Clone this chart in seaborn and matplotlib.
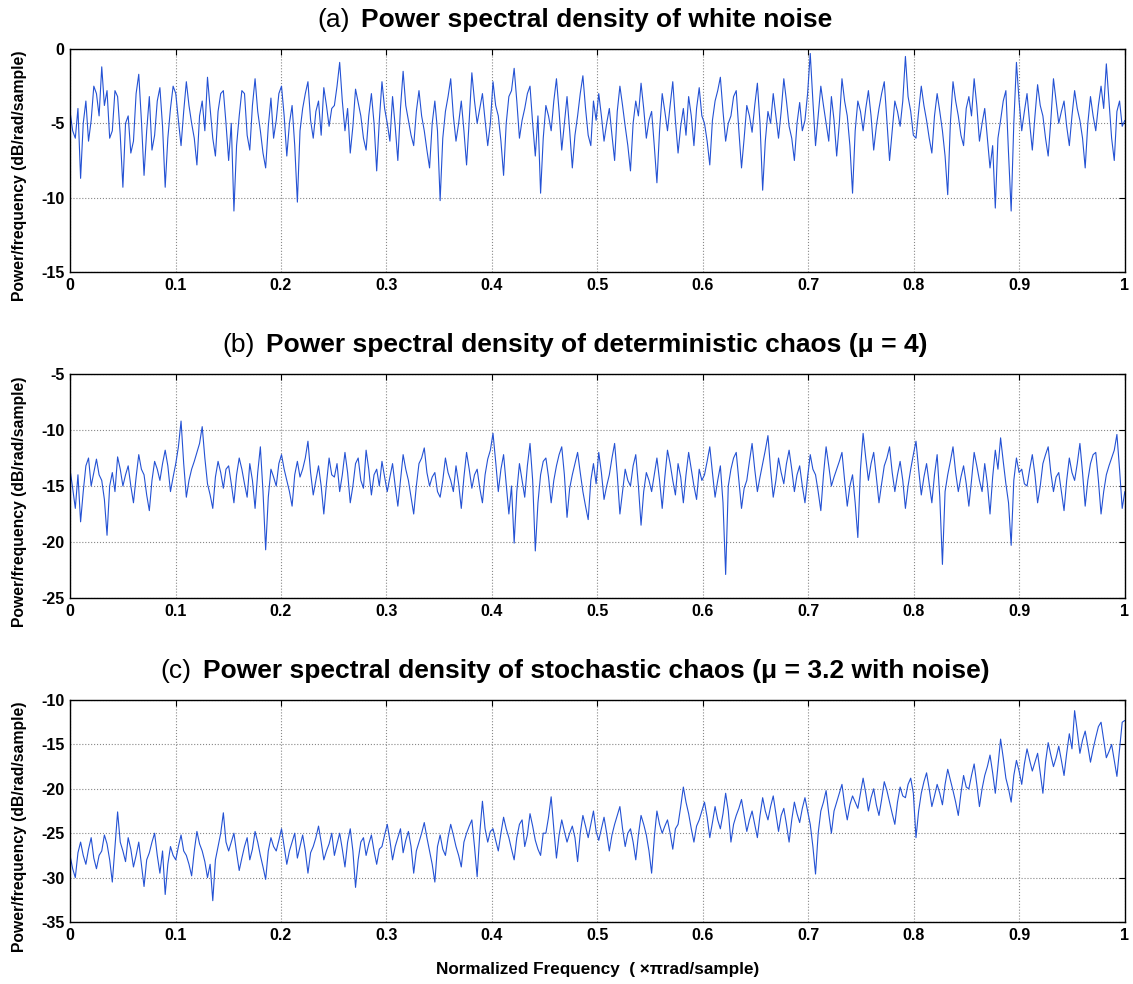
import matplotlib
matplotlib.use('Agg')
import matplotlib.pyplot as plt
import seaborn as sns
import numpy as np
import pandas as pd

# PSD values (dB/rad/sample), 400 samples per trace
white_noise = [
    -4.2, -5.5, -6.0, -4.0, -8.7, -5.0, -3.5, -6.2, -4.8, -2.5, -3.0, -4.5, -1.2, -3.8, -2.8, -6.0, -5.5, -2.8, -3.2, -5.8,
    -9.3, -5.0, -4.5, -7.0, -6.2, -3.0, -1.7, -4.8, -8.5, -5.5, -3.2, -6.8, -5.8, -3.5, -2.6, -5.2, -9.3, -6.0, -4.0, -2.5,
    -3.0, -4.8, -6.5, -4.2, -2.2, -3.8, -5.0, -6.0, -7.8, -4.5, -3.5, -5.5, -1.9, -4.0, -6.0, -7.2, -4.2, -3.0, -2.8, -5.0,
    -7.5, -5.0, -10.9, -6.5, -4.5, -2.8, -3.0, -5.8, -6.8, -3.8, -2.0, -4.2, -5.5, -7.0, -8.0, -5.2, -3.3, -6.0, -4.8, -3.0,
    -2.5, -4.5, -7.2, -5.0, -3.8, -6.5, -10.3, -5.5, -4.0, -3.0, -2.2, -4.8, -6.0, -4.2, -3.5, -5.8, -2.6, -3.8, -5.2, -4.0,
    -3.8, -2.5, -0.9, -3.5, -5.5, -4.0, -7.0, -5.2, -2.7, -3.6, -4.5, -6.0, -6.8, -4.5, -3.0, -5.0, -8.2, -4.8, -2.2, -4.0,
    -5.0, -6.2, -3.2, -5.2, -7.5, -4.0, -1.5, -3.8, -4.8, -5.8, -6.5, -4.2, -2.8, -4.5, -5.5, -6.8, -8.0, -5.0, -3.5, -5.5,
    -10.2, -6.0, -4.2, -3.2, -2.0, -4.5, -6.2, -5.0, -3.5, -5.5, -7.8, -4.8, -1.6, -3.5, -5.0, -4.0, -3.0, -4.8, -6.5, -5.0,
    -2.2, -3.8, -4.5, -6.2, -8.5, -5.0, -3.2, -2.8, -1.3, -3.5, -6.0, -4.8, -4.0, -3.0, -2.5, -5.0, -7.2, -4.5, -9.7, -6.0,
    -3.8, -4.5, -5.5, -3.5, -2.0, -4.2, -6.8, -5.0, -3.2, -5.5, -8.0, -5.8, -4.5, -3.0, -1.8, -4.0, -5.8, -6.5, -3.5, -4.8,
    -3.0, -4.5, -6.2, -5.0, -4.0, -5.8, -7.5, -4.2, -2.5, -3.8, -5.2, -6.5, -8.2, -5.0, -3.5, -4.5, -2.3, -4.0, -6.0, -4.8,
    -4.2, -6.5, -9.0, -5.5, -3.0, -4.2, -5.5, -3.8, -2.2, -4.8, -7.0, -5.2, -4.0, -5.8, -3.2, -4.5, -6.5, -4.0, -2.6, -4.5,
    -5.0, -6.2, -7.8, -4.8, -3.5, -2.8, -1.9, -4.2, -6.2, -5.0, -4.5, -3.2, -2.8, -5.5, -8.0, -6.0, -3.8, -4.5, -5.6, -3.8,
    -2.3, -5.0, -9.5, -6.2, -4.2, -5.0, -3.0, -4.5, -6.0, -4.2, -2.0, -3.5, -5.2, -6.0, -7.5, -5.0, -3.6, -5.5, -4.8, -3.0,
    -0.3, -3.5, -6.5, -4.5, -2.5, -3.8, -5.0, -6.2, -3.2, -4.8, -7.2, -5.0, -2.0, -3.5, -4.5, -6.5, -9.7, -5.5, -3.5, -4.2,
    -5.5, -4.0, -2.8, -4.5, -6.8, -5.2, -4.0, -3.0, -2.2, -4.8, -7.5, -5.5, -3.5, -4.2, -5.2, -3.5, -0.5, -3.2, -4.2, -5.8,
    -6.0, -4.2, -2.5, -3.8, -4.8, -6.0, -7.0, -4.5, -3.0, -4.2, -5.5, -7.2, -9.8, -5.0, -2.2, -3.5, -4.5, -5.8, -6.5, -4.0,
    -3.2, -4.5, -2.0, -3.8, -6.2, -5.0, -4.0, -6.0, -8.0, -6.5, -10.7, -6.0, -4.8, -3.5, -2.8, -7.0, -10.9, -5.0, -0.9, -3.5,
    -5.5, -4.2, -3.0, -5.0, -6.8, -4.5, -2.4, -3.8, -4.5, -6.0, -7.2, -4.8, -2.0, -3.5, -5.0, -4.2, -3.5, -5.2, -6.5, -4.5,
    -2.8, -4.0, -4.8, -6.0, -8.0, -5.0, -3.2, -4.5, -5.5, -3.8, -2.5, -4.0, -1.0, -3.5, -6.0, -7.5, -4.2, -3.5, -5.2, -4.8,
]

det_chaos = [
    -13.5, -15.2, -17.0, -14.0, -18.2, -15.5, -13.2, -12.5, -15.0, -13.8, -12.6, -14.0, -14.5, -16.2, -19.4, -15.0, -13.8, -15.5, -12.4, -13.5,
    -15.0, -14.0, -13.2, -15.0, -16.5, -14.2, -12.2, -13.5, -14.0, -15.8, -17.2, -14.5, -12.8, -13.5, -14.5, -13.0, -11.8, -13.2, -15.5, -14.2,
    -13.0, -11.5, -9.2, -13.0, -16.0, -14.5, -13.5, -12.8, -12.0, -11.2, -9.7, -12.5, -14.8, -15.8, -17.0, -14.2, -12.8, -13.8, -15.2, -13.5,
    -13.2, -14.8, -16.5, -14.0, -12.5, -13.5, -14.8, -16.0, -13.0, -14.5, -17.0, -13.8, -11.5, -15.5, -20.7, -16.0, -13.5, -14.2, -15.0, -13.0,
    -12.2, -13.5, -14.5, -15.5, -16.8, -14.0, -12.8, -14.2, -13.5, -12.5, -11.0, -13.8, -15.8, -14.5, -13.2, -15.0, -17.5, -14.8, -12.5, -14.0,
    -14.2, -13.0, -15.5, -14.0, -12.0, -13.8, -16.5, -15.0, -13.0, -12.5, -14.5, -15.2, -11.8, -13.5, -15.8, -14.0, -13.5, -15.0, -12.8, -14.2,
    -15.5, -14.2, -13.0, -15.0, -16.8, -14.5, -12.2, -13.5, -14.5, -16.0, -17.5, -15.0, -13.0, -12.5, -11.6, -13.8, -15.0, -14.2, -13.8, -15.5,
    -16.0, -14.5, -12.5, -13.8, -14.5, -15.5, -13.2, -14.8, -17.0, -14.2, -12.0, -13.5, -15.2, -14.0, -13.5, -15.2, -16.5, -14.0, -12.6, -11.8,
    -10.3, -12.8, -15.5, -13.5, -12.2, -14.8, -17.5, -15.0, -20.1, -15.5, -13.0, -14.5, -16.0, -13.2, -11.2, -14.5, -20.8, -16.5, -14.0, -12.8,
    -12.5, -14.2, -16.5, -14.5, -13.2, -12.2, -11.5, -14.0, -17.8, -15.2, -14.0, -13.0, -12.0, -13.8, -15.5, -16.8, -18.0, -14.5, -13.0, -14.8,
    -12.0, -13.8, -16.2, -15.0, -14.0, -12.5, -11.2, -14.0, -17.5, -15.5, -13.5, -14.5, -15.0, -13.2, -12.2, -15.0, -18.5, -15.5, -13.8, -14.5,
    -15.5, -14.0, -12.5, -14.5, -17.0, -14.2, -11.8, -13.0, -14.5, -15.8, -13.0, -14.2, -16.5, -14.0, -12.0, -13.5, -15.0, -16.2, -13.5, -14.5,
    -14.0, -12.8, -11.5, -13.8, -16.0, -14.5, -13.2, -16.5, -22.9, -15.0, -13.5, -12.5, -12.0, -14.5, -17.0, -15.2, -14.5, -12.8, -11.2, -13.5,
    -15.5, -14.2, -13.0, -11.8, -10.5, -13.5, -16.0, -14.5, -12.5, -13.8, -14.8, -13.0, -11.8, -13.5, -15.5, -14.0, -13.2, -15.0, -16.5, -14.2,
    -12.2, -13.5, -14.0, -15.5, -17.2, -14.0, -11.5, -13.2, -15.0, -14.2, -13.5, -12.8, -12.0, -14.5, -16.8, -15.0, -14.0, -16.5, -19.6, -13.5,
    -10.3, -12.5, -14.5, -13.0, -12.0, -14.2, -16.5, -14.8, -13.2, -12.5, -11.5, -13.8, -15.5, -14.0, -12.8, -14.5, -17.0, -15.0, -13.5, -12.2,
    -11.0, -13.5, -15.8, -14.2, -13.0, -14.8, -16.5, -14.0, -12.2, -16.0, -22.0, -15.5, -14.0, -12.8, -11.5, -13.8, -15.5, -14.2, -13.2, -14.8,
    -16.8, -14.5, -12.0, -13.2, -14.5, -15.5, -13.0, -14.8, -17.5, -14.2, -11.8, -13.5, -10.7, -12.8, -14.8, -16.5, -20.3, -14.5, -12.5, -13.8,
    -13.5, -14.8, -15.0, -13.5, -12.2, -14.0, -16.5, -15.0, -13.0, -12.2, -11.5, -13.8, -15.5, -14.2, -13.8, -15.5, -17.2, -14.5, -12.5, -13.8,
    -14.5, -13.0, -11.2, -13.8, -16.8, -14.5, -13.0, -12.2, -12.0, -14.5, -17.5, -15.5, -14.0, -13.2, -12.5, -11.8, -10.4, -13.5, -17.0, -15.5,
]

stoch_chaos = [
    -27.5, -29.0, -30.0, -27.2, -26.0, -27.5, -28.5, -26.8, -25.5, -27.8, -29.0, -27.5, -27.0, -25.2, -26.2, -28.0, -30.5, -26.5, -22.6, -26.0,
    -27.0, -28.2, -25.5, -26.8, -28.8, -27.5, -26.0, -28.5, -31.0, -28.0, -27.2, -26.0, -25.0, -27.5, -29.5, -27.0, -31.9, -28.5, -26.5, -27.5,
    -28.0, -26.5, -25.2, -27.0, -27.5, -28.5, -29.8, -27.0, -24.8, -26.2, -27.0, -28.2, -30.0, -28.5, -32.6, -28.0, -26.5, -25.0, -22.7, -26.0,
    -27.0, -26.0, -25.0, -27.2, -29.2, -27.8, -26.5, -25.5, -28.0, -26.8, -24.8, -26.0, -27.5, -28.8, -30.2, -27.0, -25.5, -26.5, -27.0, -25.8,
    -24.5, -26.5, -28.5, -27.0, -26.0, -25.0, -27.8, -26.5, -25.2, -27.0, -29.5, -27.2, -26.5, -25.5, -24.2, -26.0, -28.0, -27.0, -26.2, -25.0,
    -27.5, -26.2, -25.0, -26.8, -28.8, -26.0, -24.5, -27.0, -31.1, -28.0, -26.0, -25.5, -27.5, -26.2, -25.2, -27.0, -28.5, -26.8, -26.5, -25.2,
    -24.0, -25.8, -28.0, -26.5, -25.5, -24.5, -27.2, -25.8, -24.8, -26.5, -29.5, -27.0, -26.0, -25.0, -23.8, -25.5, -27.0, -28.5, -30.5, -26.5,
    -25.2, -26.8, -27.5, -25.5, -24.0, -25.2, -26.5, -27.5, -28.8, -26.0, -25.0, -24.2, -23.5, -26.5, -29.9, -25.0, -21.4, -24.5, -26.0, -24.8,
    -24.5, -25.8, -27.0, -25.0, -23.2, -24.5, -25.5, -26.8, -28.0, -25.5, -24.0, -23.5, -26.5, -25.2, -22.8, -24.2, -25.8, -26.8, -27.5, -25.0,
    -25.0, -23.2, -20.9, -24.5, -27.8, -25.2, -23.5, -24.8, -26.0, -25.0, -24.2, -25.5, -28.2, -25.0, -23.0, -24.2, -25.5, -24.0, -22.5, -24.8,
    -25.8, -24.5, -23.2, -25.0, -27.0, -25.2, -24.0, -23.0, -22.0, -24.5, -26.5, -25.0, -24.5, -26.0, -28.0, -25.2, -23.0, -24.0, -25.2, -27.0,
    -29.5, -25.5, -22.5, -24.0, -25.0, -24.2, -23.5, -25.0, -26.8, -24.5, -24.0, -22.0, -19.8, -21.5, -22.8, -24.5, -26.0, -24.2, -23.5, -22.5,
    -21.5, -23.2, -25.5, -23.8, -22.0, -23.5, -24.5, -22.8, -20.5, -22.5, -26.0, -24.0, -23.0, -22.2, -21.2, -23.0, -24.8, -23.5, -22.5, -24.0,
    -25.5, -23.0, -21.0, -22.5, -23.5, -22.0, -20.8, -22.8, -24.8, -23.0, -22.2, -24.0, -26.0, -23.5, -21.5, -22.8, -23.8, -22.2, -21.0, -22.5,
    -24.0, -26.5, -29.6, -25.0, -22.5, -21.5, -20.2, -22.8, -25.0, -22.5, -21.5, -20.5, -19.5, -21.8, -23.5, -21.8, -20.8, -21.5, -22.2, -20.5,
    -18.8, -20.5, -22.5, -21.0, -20.0, -21.8, -23.0, -21.2, -19.2, -20.2, -21.5, -22.8, -24.0, -21.5, -19.8, -20.8, -21.0, -19.5, -18.8, -20.5,
    -25.5, -22.5, -20.5, -19.2, -18.2, -20.0, -22.0, -20.8, -19.5, -20.5, -21.8, -19.5, -17.8, -19.0, -20.2, -21.5, -23.0, -20.5, -18.5, -19.8,
    -20.0, -18.5, -17.2, -19.5, -22.0, -20.0, -18.5, -17.5, -16.2, -18.2, -20.5, -17.5, -14.4, -16.5, -18.8, -20.0, -21.5, -18.5, -16.8, -18.0,
    -19.5, -17.2, -15.5, -16.8, -18.0, -17.0, -16.0, -18.2, -20.5, -17.0, -14.8, -16.2, -17.5, -16.5, -15.2, -16.8, -18.5, -16.0, -13.8, -15.5,
    -11.2, -13.5, -16.0, -14.5, -13.5, -15.2, -17.0, -15.5, -14.2, -13.0, -12.5, -14.5, -16.5, -15.8, -15.0, -16.8, -18.6, -15.5, -12.5, -12.3,
]

panel_tags = ['(a)', '(b)', '(c)']
panel_titles = ['Power spectral density of white noise',
                'Power spectral density of deterministic chaos (\u03bc = 4)',
                'Power spectral density of stochastic chaos (\u03bc = 3.2 with noise)']
y_ranges = [(-15, 0), (-25, -5), (-35, -10)]
x_ticks = [0, 0.1, 0.2, 0.3, 0.4, 0.5, 0.6, 0.7, 0.8, 0.9, 1]
x_tick_labels = ['0', '0.1', '0.2', '0.3', '0.4', '0.5', '0.6', '0.7', '0.8', '0.9', '1']

sns.set_style('white')
plt.rcParams['font.family'] = ['Liberation Sans', 'DejaVu Sans']
plt.rcParams['axes.unicode_minus'] = False
for key in ['text.color', 'axes.labelcolor', 'xtick.color', 'ytick.color']:
    plt.rcParams[key] = 'black'

fig = plt.figure(figsize=(11.33, 9.84), dpi=100)
axes_pos = [[0.0618, 0.7236, 0.931, 0.2266],
            [0.0618, 0.3923, 0.931, 0.2276],
            [0.0618, 0.0630, 0.931, 0.2256]]

line_color = '#2452d4'
series = [white_noise, det_chaos, stoch_chaos]
axes = []
for k, vals in enumerate(series):
    ax = fig.add_axes(axes_pos[k])
    df = pd.DataFrame({'freq': np.linspace(0, 1, len(vals)), 'psd': vals})
    sns.lineplot(data=df, x='freq', y='psd', ax=ax, color=line_color, linewidth=0.8)
    lo, hi = y_ranges[k]
    ax.set_xlim(0, 1)
    ax.set_ylim(lo, hi)
    ax.set_xticks(x_ticks)
    ax.set_xticklabels(x_tick_labels)
    ax.set_yticks(np.arange(lo, hi + 1, 5))
    ax.grid(True, linestyle=':', color='#888888', linewidth=0.8)
    ax.tick_params(axis='both', direction='in', length=4, labelsize=11.5, pad=4,
                   top=True, right=True)
    for lab in ax.get_xticklabels() + ax.get_yticklabels():
        lab.set_fontweight('bold')
    for sp in ax.spines.values():
        sp.set_color('black')
        sp.set_linewidth(1.0)
    ax.set_xlabel('')
    ax.set_ylabel('Power/frequency (dB/rad/sample)', fontsize=11.3, fontweight='bold')
    ax.yaxis.set_label_coords(-0.041, 0.43)
    axes.append(ax)

axes[2].set_xlabel('Normalized Frequency  ( \u00d7\u03c0rad/sample)', fontsize=12.3,
                   fontweight='bold', labelpad=14)

# titles: regular tag + bold text, centred together above each panel
fig.canvas.draw()
renderer = fig.canvas.get_renderer()
title_cx = 575
for k, ax in enumerate(axes):
    pos = ax.get_position()
    ty = pos.y1 * fig.bbox.height + 17
    t1 = fig.text(0, 0, panel_tags[k], fontsize=19, transform=None, va='bottom')
    t2 = fig.text(0, 0, panel_titles[k], fontsize=19, fontweight='bold', transform=None, va='bottom')
    w1 = t1.get_window_extent(renderer).width
    w2 = t2.get_window_extent(renderer).width
    gap = 11
    x0 = title_cx - (w1 + gap + w2) / 2
    t1.set_position((x0, ty))
    t2.set_position((x0 + w1 + gap, ty))

fig.savefig('out.png', dpi=100)
